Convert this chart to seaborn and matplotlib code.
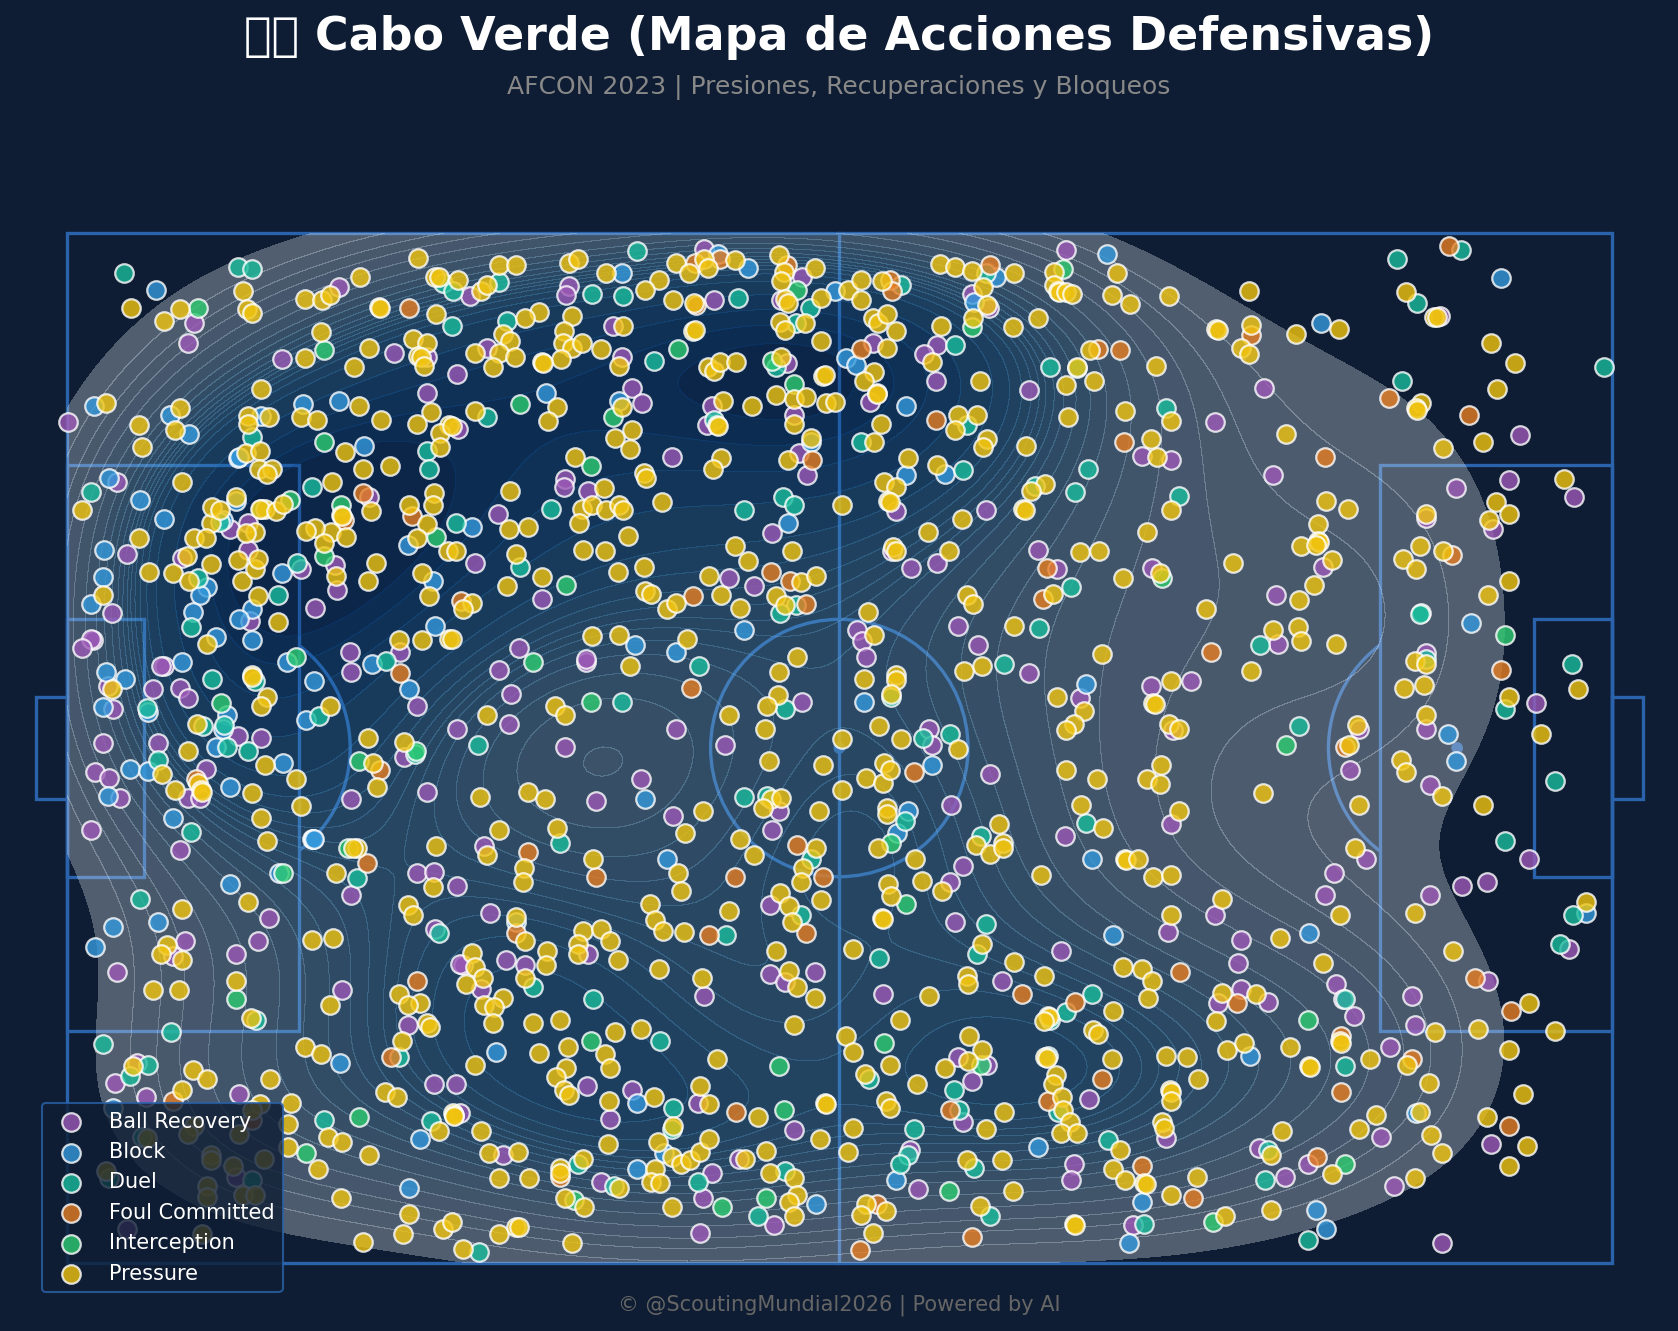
import matplotlib
matplotlib.use('Agg')
import numpy as np
import pandas as pd
import seaborn as sns
import matplotlib.pyplot as plt
from matplotlib.patches import Rectangle, Circle, Arc

# events, pitch units (120 x 80, y down)
ball_recovery = [(9.9,7.0),(9.4,8.5),(21.1,4.2),(16.7,9.8),(25.4,9.3),(28.0,9.6),(28.0,12.4),(23.5,20.5),(14.1,24.6),(14.1,22.5),(12.7,23.0),(8.9,25.2),(4.7,24.9),(3.5,29.5),(3.9,19.3),(0.1,14.7),(20.8,25.8),(21.0,27.7),(18.2,26.1),(19.3,29.1),(14.2,30.1),(2.0,31.6),(1.9,31.5),(1.2,32.2),(3.2,35.2),(3.6,37.0),(2.8,39.6),(6.7,35.4),(8.8,35.3),(9.4,36.1),(7.5,33.6),(7.3,33.6),(7.1,39.6),(13.3,39.1),(15.1,39.2),(22.0,32.5),(22.1,34.1),(25.9,32.5),(27.2,36.7),
    (31.3,4.9),(32.6,8.9),(30.3,10.9),(39.0,4.1),(38.8,4.8),(49.5,1.2),(50.3,5.2),(57.1,3.4),(55.5,5.2),(42.4,7.2),(43.1,9.6),(30.4,15.2),(55.9,10.1),(56.5,14.1),(56.9,17.1),(57.5,18.8),(50.1,13.4),(49.7,14.9),(47.0,17.4),(43.9,12.0),(44.7,13.2),(38.7,19.1),(38.6,19.7),(33.5,21.8),(40.5,20.0),(54.8,23.3),(31.7,25.6),(36.9,28.4),(51.4,26.8),(53.4,27.4),(35.1,32.2),(33.6,33.9),(40.3,33.3),(40.3,33.1),(34.5,35.8),(34.3,38.1),(30.3,38.5),(57.1,36.4),(47.3,38.5),(38.7,39.9),(51.1,39.8),
    (70.3,4.7),(71.6,5.8),(67.6,8.7),(66.6,9.4),(67.5,11.5),(62.6,8.5),(62.4,13.1),(74.7,12.2),(64.4,21.6),(71.4,21.5),(64.1,24.7),(67.6,25.6),(65.6,26.0),(77.6,1.3),(89.2,14.7),(83.5,17.3),(85.8,17.6),(75.4,24.6),(76.9,26.1),(84.3,26.0),(61.4,30.8),(61.8,31.7),(62.1,32.9),(69.2,30.5),(70.8,32.0),(74.7,34.2),(78.7,36.1),(84.2,35.2),(87.3,34.8),(67.0,38.5),(67.2,39.8),(85.9,38.6),
    (93.0,12.0),(93.7,18.8),(106.7,6.4),(112.9,15.7),(112.0,19.2),(117.1,20.5),(107.9,19.8),(110.8,23.0),(105.6,22.1),(97.6,25.9),(93.9,28.1),(94.1,31.9),(105.6,32.6),(114.1,36.5),(105.6,38.5),(100.4,38.5),
    (2.2,41.9),(3.3,42.3),(10.8,41.6),(26.2,40.7),(28.0,43.4),(4.1,43.9),(9.4,43.9),(10.3,43.9),(22.1,44.0),(1.9,46.4),(8.8,47.9),(22.1,51.4),(27.2,49.7),(28.5,49.6),(15.7,53.2),(14.8,55.0),(13.1,56.0),(3.9,57.4),(9.2,55.0),(8.2,56.2),(21.4,58.8),(26.5,61.5),(28.6,54.1),(5.4,64.5),(3.7,66.0),(6.1,67.1),(13.4,66.9),(28.5,66.1),(13.1,73.3),(4.7,77.4),
    (44.6,42.4),(41.1,44.1),(32.4,47.6),(30.3,50.7),(47.1,45.3),(55.3,44.9),(54.8,46.4),(54.6,52.2),(32.9,52.8),(40.5,56.0),(49.5,59.3),(34.1,56.5),(35.6,56.9),(30.8,56.9),(32.2,58.7),(30.5,56.8),(40.4,66.3),(54.6,57.6),(55.8,58.2),(58.1,57.4),(43.9,66.6),(42.2,68.8),(49.0,67.6),(56.5,69.7),(33.9,71.6),(30.5,68.4),(30.2,66.1),(41.5,73.7),(50.1,73.0),(49.4,75.0),(52.2,71.9),(54.9,77.1),(49.2,77.7),
    (71.7,42.0),(68.7,44.4),(69.6,49.2),(68.6,50.4),(69.0,53.5),(72.6,58.1),(77.2,55.8),(63.4,59.1),(65.5,71.2),(66.1,74.3),(69.2,64.0),(71.5,64.6),(70.3,65.9),(69.6,69.1),(85.8,45.9),(77.5,46.8),(89.2,53.0),(85.5,54.3),(89.4,59.8),(79.4,67.3),(85.4,70.3),(78.2,72.3),(78.0,73.6),(82.8,77.1),
    (99.7,41.7),(105.9,42.9),(100.9,48.6),(98.4,49.7),(97.7,51.4),(113.6,48.6),(108.4,50.7),(110.3,50.4),(105.9,51.4),(116.7,55.6),(91.2,54.9),(91.0,56.7),(110.4,58.1),(98.6,58.3),(99.1,59.5),(100.0,60.8),(91.2,58.7),(93.3,59.7),(104.5,59.3),(104.7,61.5),(102.8,63.2),(102.1,70.2),(110.6,70.8),(92.6,71.1),(96.4,72.3),(94.6,73.3),(103.1,74.0),(106.8,78.5)]

block = [(6.9,4.4),(2.1,13.4),(8.0,14.1),(9.5,15.6),(21.1,13.0),(18.3,13.3),(23.1,16.5),(26.5,24.2),(28.4,27.0),(13.1,20.8),(15.1,14.2),(13.3,17.5),(13.4,17.4),(16.7,26.4),(10.9,27.5),(10.3,28.1),(9.8,29.4),(11.6,31.4),(2.9,24.6),(2.8,26.7),(1.9,28.8),(5.7,20.7),(7.5,22.2),(3.3,19.0),(14.4,29.2),(13.4,30.0),(14.4,31.6),(12.1,22.3),(3.0,34.1),(4.5,34.6),(2.8,36.8),(8.9,33.3),(12.4,37.4),(12.1,38.5),(11.6,39.9),(6.3,37.2),(17.1,33.3),(19.2,34.8),(18.6,37.8),(23.7,33.5),(28.6,30.5),(26.6,35.4),
    (43.1,3.1),(50.6,1.6),(52.9,2.7),(59.7,4.5),(37.2,12.4),(42.9,13.0),(57.8,16.2),(31.5,22.8),(56.0,22.5),(52.6,30.8),(44.1,32.0),(47.3,32.5),
    (72.2,3.4),(70.5,5.3),(60.5,9.7),(61.3,10.2),(65.2,13.4),(65.2,18.8),(68.2,18.7),(61.9,36.4),(80.8,1.6),(79.2,35.0),
    (97.4,7.0),(111.4,3.5),(109.1,30.3),(107.3,38.9),
    (4.9,41.6),(6.3,41.8),(16.8,41.2),(12.7,43.0),(3.2,43.7),(8.2,45.4),(19.0,47.1),(19.1,47.1),(19.2,47.1),(16.5,49.7),(12.7,50.6),(7.1,53.5),(3.6,53.9),(2.2,55.5),(21.2,64.5),(3.6,68.0),(27.4,70.4),(26.6,74.2),
    (44.9,44.0),(46.6,48.6),(34.9,53.5),(33.3,63.6),(44.3,67.6),(46.4,71.5),(44.3,72.7),(58.2,75.4),
    (67.2,41.3),(65.3,44.9),(64.5,46.6),(64.4,73.6),(75.4,71.0),(79.6,48.6),(81.3,54.5),(83.5,75.3),(82.5,78.5),
    (107.9,41.0),(96.5,54.4),(91.9,63.9),(118.0,52.8),(104.8,68.4),(97.0,75.9),(97.8,77.4)]

duel = [(4.4,3.1),(13.3,2.6),(14.4,2.8),(29.2,3.9),(14.4,15.8),(28.0,16.9),(28.1,18.3),(19.0,19.7),(11.9,22.4),(17.9,25.6),(16.4,28.1),(10.2,26.8),(9.6,30.6),(1.9,20.1),(14.6,34.8),(11.3,34.6),(6.2,36.9),(10.6,38.3),(12.2,38.2),(12.4,39.9),(14.1,40.2),(19.6,37.5),(24.8,33.2),
    (30.0,4.5),(33.6,3.8),(29.9,7.2),(44.3,1.4),(40.8,4.7),(43.2,4.9),(52.1,5.0),(57.7,5.8),(34.2,6.8),(45.6,9.9),(55.1,10.4),(56.6,7.0),(50.3,14.5),(32.6,14.3),(37.6,21.4),(30.2,22.5),(35.2,25.9),(52.6,21.5),(55.6,20.5),(56.5,21.1),(56.6,28.9),(55.4,29.5),(49.1,33.6),(31.9,39.8),(43.1,36.4),(55.8,37.0),
    (64.8,4.0),(71.4,3.1),(69.0,8.7),(69.9,14.9),(61.7,16.2),(69.6,18.4),(85.4,13.6),(79.3,18.3),(78.3,20.1),(75.2,19.6),(76.4,10.4),(78.5,10.5),(86.4,20.4),(78.0,27.5),(75.5,30.7),(72.8,33.5),(64.0,36.0),(66.5,39.2),(68.6,38.9),
    (103.3,2.0),(108.3,1.3),(104.9,5.4),(119.4,10.4),(103.7,11.5),(105.2,29.5),(105.1,29.6),(92.7,32.0),(105.6,33.1),(116.9,33.5),(111.7,37.0),(95.7,38.3),
    (7.1,40.9),(27.0,40.5),(9.6,46.5),(22.5,50.1),(5.7,51.7),(14.7,61.1),(8.1,62.1),(2.8,63.0),(6.3,64.6),(4.9,65.5),(25.8,64.0),(20.0,68.9),(28.3,69.0),(5.8,70.2),(14.4,73.6),(3.3,73.4),(28.9,54.4),
    (52.6,43.8),(54.4,43.7),(38.3,47.4),(57.8,48.6),(51.2,54.5),(57.0,53.0),(36.2,58.6),(40.9,59.5),(46.1,62.8),(47.1,68.0),(47.0,69.6),(39.7,72.3),(42.5,74.0),(49.0,73.7),(55.8,72.9),(53.7,76.4),(32.0,79.2),
    (65.1,45.7),(71.0,46.8),(71.4,53.7),(70.7,56.0),(63.1,56.3),(62.3,65.7),(68.9,66.6),(69.3,68.1),(65.8,69.6),(65.3,71.6),(64.7,72.3),(70.5,72.6),(79.2,45.8),(79.6,59.1),(77.6,60.5),(76.4,61.1),(76.2,63.9),(77.0,68.3),(80.9,70.5),(71.7,76.4),(83.7,77.0),
    (115.6,42.6),(111.7,47.2),(117.0,53.0),(116.0,55.2),(99.3,59.5),(99.3,64.7),(93.3,71.2),(93.1,73.6),(96.4,78.2)]

foul_committed = [(26.6,5.8),(23.0,20.2),(26.8,22.0),(21.5,22.3),(25.9,34.2),
    (48.8,2.3),(50.7,2.0),(48.9,5.6),(55.9,2.5),(57.9,17.6),(54.7,26.3),(56.2,27.0),(57.4,28.8),(48.6,28.2),(30.6,28.6),(48.5,35.3),
    (63.9,3.6),(64.1,4.5),(71.7,2.5),(61.7,9.0),(67.5,14.5),(80.1,9.0),(81.8,9.1),(82.1,16.2),(76.1,26.0),(75.8,28.4),(88.9,32.5),
    (92.0,7.9),(97.7,17.4),(107.4,1.0),(102.7,12.8),(108.9,14.1),(107.6,25.0),(111.4,33.9),(99.3,39.9),
    (24.3,41.7),(10.0,42.4),(23.3,48.9),(27.2,58.1),(25.2,64.0),(8.2,67.4),(14.4,68.9),
    (35.8,48.1),(41.1,50.0),(58.7,50.0),(51.9,50.0),(56.7,47.5),(49.9,54.5),(57.4,54.4),(34.9,54.4),(52.0,68.3),(38.3,73.3),
    (65.8,41.9),(74.2,59.1),(86.5,57.4),(78.3,59.7),(80.4,65.7),(76.2,67.4),(68.6,68.1),(83.5,72.5),(87.5,75.0),(62.9,75.4),(61.6,79.0),(70.3,78.0),
    (90.9,59.8),(109.4,57.9),(112.2,60.4),(99.0,62.4),(104.5,64.2),(99.0,66.7),(112.0,69.4),(97.1,71.8)]

interception = [(10.2,5.8),(20.0,9.1),(28.7,23.6),(21.3,21.1),(20.0,25.1),(20.0,16.2),(15.1,21.4),(17.3,20.7),(12.0,36.5),(17.8,32.9),(27.1,40.2),
    (56.7,4.4),(35.2,13.3),(54.8,9.9),(47.5,9.0),(42.4,14.3),(56.5,11.7),(40.7,18.1),(38.8,27.3),(36.2,33.3),(40.7,36.4),
    (70.3,7.3),(77.4,2.8),(85.1,26.8),
    (111.7,31.2),(94.7,39.8),
    (22.7,41.0),(21.8,47.8),(16.8,49.7),(13.1,59.5),(18.6,71.5),(22.7,68.7),
    (40.7,62.8),(55.3,64.7),(55.7,68.1),(39.4,75.1),(50.9,75.7),(54.3,75.0),
    (64.0,47.4),(65.2,52.1),(63.5,62.9),(71.0,64.6),(68.5,74.4),(89.0,76.8),
    (96.4,61.1),(99.3,72.3)]

pressure = [(5.0,5.8),(8.8,5.9),(7.5,6.8),(13.7,4.5),(14.0,5.9),(14.4,6.2),(18.5,5.1),(19.8,5.2),(20.4,4.8),(22.8,3.4),(27.3,1.9),(28.6,3.4),(28.9,3.4),(24.2,5.7),(24.3,5.8),(28.7,6.3),(19.7,7.7),(18.5,9.7),(23.5,8.9),(22.3,10.4),(26.9,8.2),(28.0,8.5),(27.3,9.5),(27.5,9.6),(27.7,10.3),(28.3,13.9),(27.2,14.8),(29.7,14.9),(29.0,15.5),(29.0,16.6),(24.4,14.5),(22.7,13.4),(18.2,14.3),(19.4,14.5),(21.6,17.0),(23.0,18.3),(25.1,18.1),(20.6,19.3),(23.6,21.6),(26.6,21.1),(28.5,20.2),(28.4,21.1),(28.0,22.6),(27.2,23.7),(29.6,24.7),(27.6,26.4),(28.1,28.2),
    (21.3,21.9),(21.4,22.0),(20.5,23.2),(19.3,22.9),(18.6,23.1),(21.7,23.6),(20.0,24.1),(20.9,26.6),(24.0,25.6),(23.4,27.0),(14.8,28.2),(16.4,30.2),(13.6,27.0),(14.6,26.1),(14.8,25.3),(13.3,25.4),(14.6,23.2),(13.9,23.3),(11.2,22.5),(11.3,21.3),(11.9,21.5),(13.1,20.5),(15.4,21.4),(15.0,21.4),(16.2,21.6),(16.8,21.0),(9.9,23.7),(10.8,23.7),(9.3,25.1),(11.2,25.7),(8.2,26.4),(6.4,26.3),(9.5,27.0),(10.9,31.9),(5.6,23.7),(2.8,28.1),(8.9,19.3),(1.2,21.5),(3.0,13.2),(5.6,14.9),(5.8,16.6),(8.8,13.6),(8.4,15.3),(15.1,12.1),(14.1,14.2),(14.1,14.8),(15.7,14.3),(13.9,17.1),(15.0,16.9),(14.9,18.3),(15.9,18.3),(15.5,18.7),(3.5,35.4),(14.4,34.3),(14.4,34.5),(15.5,36.0),(15.1,36.7),(10.1,38.1),(9.4,40.2),(20.4,36.7),(23.4,39.2),(26.2,39.5),(25.8,31.6),(27.6,31.6),(29.7,31.5),
    (30.4,3.6),(33.6,2.5),(34.9,2.5),(32.2,4.5),(32.6,4.0),(39.0,2.3),(39.7,2.0),(41.9,3.1),(46.0,3.6),(44.9,4.4),(47.3,2.3),(49.5,2.0),(48.3,3.1),(49.8,2.7),(51.9,2.1),(47.1,5.2),(48.7,5.4),(55.3,1.7),(55.7,3.0),(55.5,3.7),(58.1,2.7),(55.8,5.1),(56.0,5.4),(58.6,5.0),(36.7,6.1),(35.6,6.6),(33.9,7.8),(34.4,8.4),(31.7,9.3),(33.6,9.3),(34.8,9.6),(33.1,10.4),(39.2,6.4),(38.6,7.6),(38.5,8.5),(39.2,8.9),(40.0,8.5),(38.4,9.8),(36.9,10.0),(37.0,10.1),(41.5,9.0),(43.2,7.2),(42.9,10.3),(48.6,7.6),(48.8,7.5),(29.9,15.0),(49.8,10.4),(50.3,10.7),(50.7,10.0),(52.0,10.0),(55.5,9.6),(58.6,8.4),(55.4,6.9),(55.8,7.5),(57.3,7.0),(58.7,11.1),(58.9,11.0),(55.1,12.6),(56.5,12.9),(57.4,12.7),(59.0,13.2),(59.7,13.1),(56.5,14.8),(57.8,15.9),(56.0,17.6),(51.0,13.0),(53.2,13.4),(50.5,14.9),(50.6,15.0),(50.8,17.5),(50.2,18.3),(43.1,13.5),(43.9,15.3),(42.6,15.9),(43.7,16.8),(38.1,13.5),(37.4,14.6),(31.7,13.8),(39.5,17.4),(34.4,20.0),(41.7,19.8),(44.8,18.6),(45.0,19.0),(46.2,20.9),(40.0,21.4),(40.8,21.1),(41.9,21.5),(42.9,21.1),(43.2,21.5),(39.8,22.5),(34.3,23.0),(35.8,22.8),(43.6,23.5),(40.1,24.6),(41.8,24.7),(60.2,21.1),(30.2,24.7),(34.9,24.9),(36.9,26.7),(34.2,27.4),(42.8,26.3),(44.8,25.9),(44.9,27.8),(45.4,28.0),(46.6,29.2),(47.3,28.7),(51.9,24.3),(52.9,25.5),(56.3,24.7),(57.0,27.1),(58.2,26.6),(49.9,26.6),(50.8,28.1),(52.3,29.1),(55.1,28.2),(55.8,28.9),(31.5,28.7),(30.8,29.2),(29.9,31.5),(40.8,31.3),(42.9,31.2),(48.2,31.5),(43.7,33.6),(32.6,37.4),(37.9,36.7),(38.7,37.4),(56.7,32.9),(55.3,34.1),(55.2,35.9),(54.4,36.7),(51.4,37.4),(54.2,38.5),(60.2,39.3),
    (60.7,4.4),(61.7,3.6),(61.7,5.2),(63.3,3.7),(67.8,2.4),(69.0,2.6),(70.3,2.9),(73.6,3.1),(71.2,4.2),(71.5,5.6),(70.4,6.6),(62.6,6.6),(63.0,7.0),(63.7,6.3),(64.4,7.6),(67.9,7.2),(67.2,10.0),(63.7,8.9),(62.7,10.8),(61.9,11.5),(62.9,12.4),(62.9,12.5),(70.9,11.5),(69.2,14.1),(70.7,14.1),(69.0,15.3),(63.2,14.8),(62.7,16.2),(71.5,16.0),(71.2,16.6),(74.5,16.5),(65.3,17.5),(67.6,18.0),(63.5,19.3),(64.4,19.7),(63.8,20.8),(63.9,20.9),(69.5,22.2),(66.9,23.2),(64.2,24.4),(64.4,24.7),(68.5,24.7),(75.4,6.6),(73.5,7.3),(76.7,3.0),(76.7,4.0),(77.0,4.5),(77.1,4.6),(77.6,4.6),(78.1,4.7),(81.6,3.1),(81.2,4.8),(82.6,5.5),(85.6,4.9),(89.3,7.4),(89.4,7.5),(79.5,9.1),(78.5,10.4),(77.6,11.8),(79.8,11.5),(84.6,10.3),(77.8,14.3),(82.2,13.8),(85.8,14.6),(84.2,16.0),(84.7,17.4),(76.0,19.5),(74.9,20.0),(74.3,21.4),(74.4,21.5),(85.8,21.5),(83.9,23.2),(78.7,24.8),(80.2,24.7),(82.0,26.8),(84.9,26.4),(76.6,28.0),(69.9,28.1),(70.4,28.8),(88.5,29.2),(62.2,29.4),(62.7,31.2),(73.6,30.5),(71.1,33.6),(69.7,34.0),(80.4,32.7),(61.9,34.6),(64.4,34.3),(64.4,34.7),(64.0,35.8),(63.1,38.3),(64.8,39.3),(69.2,40.1),(76.9,36.0),(79.0,37.1),(78.2,38.1),(77.6,38.6),(85.8,34.8),(84.4,36.5),(84.5,36.6),(85.6,38.1),(86.4,38.5),
    (91.8,4.5),(92.0,7.1),(91.2,8.9),(91.8,9.4),(95.5,7.8),(98.8,7.4),(94.7,15.6),(104.0,4.6),(106.2,6.5),(106.4,6.5),(110.6,8.5),(112.5,10.1),(111.1,12.1),(105.2,13.2),(104.8,13.6),(104.9,13.7),(110.0,16.2),(106.9,16.7),(116.3,19.1),(111.0,20.9),(112.0,21.8),(110.5,22.3),(105.6,21.8),(97.8,20.8),(99.5,21.4),(97.2,22.6),(95.9,24.3),(97.2,23.9),(97.3,24.0),(97.0,24.2),(90.6,25.6),(98.3,25.4),(96.9,27.3),(95.7,28.5),(105.1,24.3),(103.8,25.3),(104.8,26.1),(106.9,24.7),(112.0,27.0),(110.4,28.1),(93.7,30.8),(95.6,30.6),(95.9,31.7),(98.6,31.9),(92.0,34.0),(104.7,33.2),(105.6,33.5),(103.9,35.3),(105.4,35.1),(117.4,35.4),(112.0,36.0),(105.6,37.4),(114.5,38.9),(100.2,38.2),(99.6,39.8),
    (7.4,42.0),(15.4,41.3),(17.8,42.4),(23.8,41.2),(24.1,43.0),(8.4,43.3),(10.2,42.7),(10.4,43.3),(10.5,43.4),(14.4,43.5),(18.2,44.5),(15.1,45.4),(15.5,47.2),(22.5,47.8),(22.2,47.8),(20.9,49.7),(28.7,47.6),(28.4,50.8),(14.1,52.0),(26.5,52.2),(26.9,53.0),(8.9,52.5),(7.8,55.3),(7.3,56.0),(8.9,56.5),(6.7,58.8),(8.7,58.8),(13.1,58.1),(14.3,61.0),(19.0,54.9),(20.7,54.8),(20.4,60.0),(25.8,59.1),(27.4,59.8),(26.5,60.0),(28.0,61.4),(28.2,61.7),(26.0,62.8),(18.5,63.2),(19.7,63.8),(5.1,64.7),(9.8,65.0),(10.9,65.7),(15.8,65.7),(8.9,66.6),(15.0,67.7),(14.4,68.1),(17.4,67.6),(17.2,69.2),(17.2,71.0),(19.5,72.7),(20.3,70.2),(21.4,70.6),(23.5,71.6),(24.7,66.7),(25.6,67.1),(28.9,69.8),(30.0,68.4),(30.1,68.5),(21.3,75.0),(26.6,76.2),(26.1,77.8),(23.0,78.4),(29.2,77.4),(29.9,76.8),(9.9,69.4),(9.4,70.0),(13.4,70.0),(6.2,70.3),(11.2,71.6),(11.2,72.0),(12.9,72.5),(15.3,71.9),(10.9,74.0),(10.9,74.9),(13.7,74.7),(14.6,74.7),(3.0,72.9),(10.5,77.8),
    (32.1,43.8),(35.8,43.4),(37.1,44.0),(33.6,46.4),(38.1,46.2),(32.6,48.3),(35.5,49.3),(35.4,50.4),(40.9,48.6),(48.0,46.6),(49.4,44.9),(54.7,44.0),(55.5,43.9),(54.1,44.7),(54.5,41.0),(58.7,41.3),(58.4,44.9),(60.2,43.3),(52.3,47.1),(53.4,48.3),(47.5,49.7),(47.7,51.1),(58.2,47.8),(57.2,49.3),(57.0,50.4),(58.6,51.8),(45.3,52.1),(45.7,53.4),(46.3,54.2),(47.9,54.3),(51.4,52.7),(55.4,51.3),(56.1,52.3),(56.3,53.5),(34.9,53.1),(35.6,55.0),(40.1,54.2),(41.5,54.1),(42.2,55.0),(39.7,55.2),(39.7,56.0),(42.8,56.5),(46.0,57.2),(49.3,57.9),(37.3,55.8),(37.2,56.9),(35.6,57.9),(31.5,55.9),(31.7,57.0),(32.3,57.9),(31.0,58.3),(33.9,59.4),(32.4,60.0),(33.2,60.1),(33.1,61.4),(36.2,61.4),(38.3,61.1),(36.7,63.7),(38.9,63.2),(42.6,62.1),(44.6,61.8),(41.8,63.8),(42.2,64.9),(38.8,64.9),(38.0,65.6),(38.6,66.6),(39.0,67.0),(31.7,64.6),(50.5,64.2),(55.1,55.8),(56.1,57.3),(56.7,58.6),(58.1,59.4),(56.5,61.5),(45.6,67.1),(42.1,67.4),(49.2,66.3),(49.9,67.7),(53.7,68.7),(58.9,67.6),(59.0,67.7),(58.5,70.4),(32.2,69.8),(32.8,71.5),(35.0,71.4),(30.1,68.6),(33.6,73.4),(35.9,73.4),(42.0,70.8),(38.3,72.6),(38.3,73.0),(40.1,71.9),(42.9,74.2),(38.7,75.0),(40.2,75.7),(45.9,70.6),(47.1,69.4),(47.0,71.8),(47.7,72.3),(48.4,72.0),(49.2,71.4),(49.9,70.4),(45.7,72.7),(45.4,73.7),(46.1,73.8),(47.0,75.7),(52.7,71.9),(54.3,71.3),(54.6,73.0),(56.5,73.4),(56.7,74.7),(56.1,75.3),(56.5,76.4),(33.6,77.8),(34.9,77.2),(35.1,77.2),(30.8,78.9),(39.2,78.5),
    (62.1,42.3),(63.4,42.7),(63.5,41.2),(63.9,41.7),(63.7,44.7),(63.7,45.1),(63.0,47.8),(65.9,48.6),(72.4,45.9),(70.6,47.5),(71.7,48.2),(72.7,47.4),(72.7,47.8),(68.0,51.1),(66.4,50.3),(63.8,50.6),(64.0,51.5),(63.3,53.2),(63.4,53.3),(71.1,55.2),(61.1,55.6),(73.6,56.6),(69.9,57.7),(70.0,58.3),(75.9,57.7),(67.0,59.3),(64.7,61.1),(60.5,62.4),(61.1,63.6),(63.9,64.6),(62.0,65.3),(66.0,66.1),(63.6,67.4),(63.9,68.0),(61.1,69.5),(60.7,71.4),(73.5,74.4),(72.6,72.0),(70.1,62.4),(71.1,63.5),(70.0,64.3),(68.2,64.9),(71.4,69.6),(72.8,68.3),(75.7,49.9),(77.6,41.7),(80.0,42.4),(83.9,42.4),(85.0,41.3),(84.9,42.8),(86.4,44.9),(78.8,44.4),(80.5,46.2),(82.2,48.6),(82.3,48.7),(83.2,48.6),(84.4,50.0),(85.8,49.9),(89.7,51.7),(85.8,53.0),(82.0,57.0),(83.5,57.2),(84.3,58.1),(84.0,59.4),(81.3,60.4),(76.2,60.8),(76.3,60.9),(75.9,61.2),(79.7,61.9),(80.1,62.2),(89.7,59.0),(89.3,61.2),(90.1,63.5),(81.2,64.2),(85.4,63.9),(87.0,64.0),(87.9,65.7),(76.0,64.0),(76.1,64.1),(76.8,65.4),(76.6,66.1),(77.3,67.1),(77.4,68.1),(77.9,69.1),(77.2,69.9),(78.5,69.9),(85.7,66.6),(85.8,66.7),(85.8,67.4),(85.1,69.1),(85.2,69.5),(81.8,71.2),(81.3,72.7),(82.2,73.6),(83.7,73.8),(83.8,73.9),(85.8,74.7),(87.8,73.3),(62.1,75.4),(63.6,76.0),(61.7,76.3),(62.6,77.7),(70.9,75.6),(78.2,77.0),(78.3,77.1),(90.0,76.4),(69.9,72.0),
    (92.9,43.5),(100.4,44.4),(103.6,40.9),(104.0,41.9),(106.8,43.7),(110.0,44.4),(100.1,47.8),(98.9,53.0),(104.7,52.8),(118.0,52.0),(94.2,54.8),(97.6,56.7),(107.7,55.8),(92.4,59.1),(106.3,62.1),(109.6,61.8),(113.6,59.8),(115.6,62.0),(112.0,63.5),(91.4,62.9),(95.0,63.2),(96.5,64.7),(96.6,64.8),(98.9,62.8),(99.0,62.9),(101.2,64.2),(104.1,64.6),(105.8,66.0),(113.1,66.9),(101.7,68.5),(100.4,69.6),(105.1,68.3),(110.3,68.7),(113.4,70.9),(106.0,70.1),(106.8,71.5),(112.0,72.5),(94.4,69.8),(93.5,71.6),(98.3,73.1),(104.7,73.4),(93.5,75.9)]

event_names = ['Ball Recovery', 'Block', 'Duel', 'Foul Committed', 'Interception', 'Pressure']
event_points = [ball_recovery, block, duel, foul_committed, interception, pressure]
event_colors = ['#9b59b6', '#3498db', '#1abc9c', '#e67e22', '#2ecc71', '#f1c40f']

bg = '#0e1d33'
line_col = '#2a63ab'

df = pd.concat([pd.DataFrame(p, columns=['x', 'y']).assign(event=n)
                for n, p in zip(event_names, event_points)], ignore_index=True)

fig = plt.figure(figsize=(16.78, 13.31), dpi=100, facecolor=bg)
ax = fig.add_axes([0, 0, 1, 1], facecolor=bg)

# pitch
def add_box(x, y, w, h):
    ax.add_patch(Rectangle((x, y), w, h, fill=False, ec=line_col, lw=2.4, zorder=1))

add_box(0, 0, 120, 80)
add_box(0, 18, 18, 44)
add_box(102, 18, 18, 44)
add_box(0, 30, 6, 20)
add_box(114, 30, 6, 20)
add_box(-2.4, 36, 2.4, 8)
add_box(120, 36, 2.4, 8)
ax.plot([60, 60], [0, 80], color=line_col, lw=2.4, zorder=1)
ax.add_patch(Circle((60, 40), 10, fill=False, ec=line_col, lw=2.4, zorder=1))
ax.add_patch(Circle((60, 40), 0.4, color=line_col, zorder=1))
ax.add_patch(Circle((12, 40), 0.4, color=line_col, zorder=1))
ax.add_patch(Circle((108, 40), 0.4, color=line_col, zorder=1))
ax.add_patch(Arc((12, 40), 20, 20, theta1=-53, theta2=53, ec=line_col, lw=2.4, zorder=1))
ax.add_patch(Arc((108, 40), 20, 20, theta1=127, theta2=233, ec=line_col, lw=2.4, zorder=1))

# density of all events under the points
sns.kdeplot(data=df, x='x', y='y', fill=True, cmap='Blues', alpha=0.3, levels=22,
            thresh=0.06, bw_adjust=1.12, clip=((0, 120), (0, 80)), ax=ax, zorder=2)

for name, color in zip(event_names, event_colors):
    sub = df[df['event'] == name]
    sns.scatterplot(data=sub, x='x', y='y', color=color, s=178, edgecolor='white',
                    linewidth=1.6, alpha=0.8, label=name, ax=ax, zorder=3)

ax.set_xlim(-67.0 / 12.872, (1678 - 67.0) / 12.872)
ax.set_ylim((1331 - 233.3) / 12.868, -233.3 / 12.868)
ax.axis('off')

leg = ax.legend(loc='lower left', bbox_to_anchor=(42 / 1678, 1 - 1292 / 1331), borderaxespad=0,
                fontsize=15, facecolor=bg, edgecolor=line_col, framealpha=0.8, labelcolor='white')
leg.get_frame().set_linewidth(1.5)
leg.set_zorder(5)

fig.text(0.5, 1 - 38 / 1331, '\U0001F1E8\U0001F1FB Cabo Verde (Mapa de Acciones Defensivas)', color='white',
         fontsize=33, fontweight='bold', ha='center', va='center')
fig.text(0.5, 1 - 88 / 1331, 'AFCON 2023 | Presiones, Recuperaciones y Bloqueos', color='#888888',
         fontsize=18, ha='center', va='center')
fig.text(0.5, 1 - 1305 / 1331, '© @ScoutingMundial2026 | Powered by AI', color='#666666',
         fontsize=15, ha='center', va='center')

fig.savefig('out.png', dpi=100, facecolor=bg)
